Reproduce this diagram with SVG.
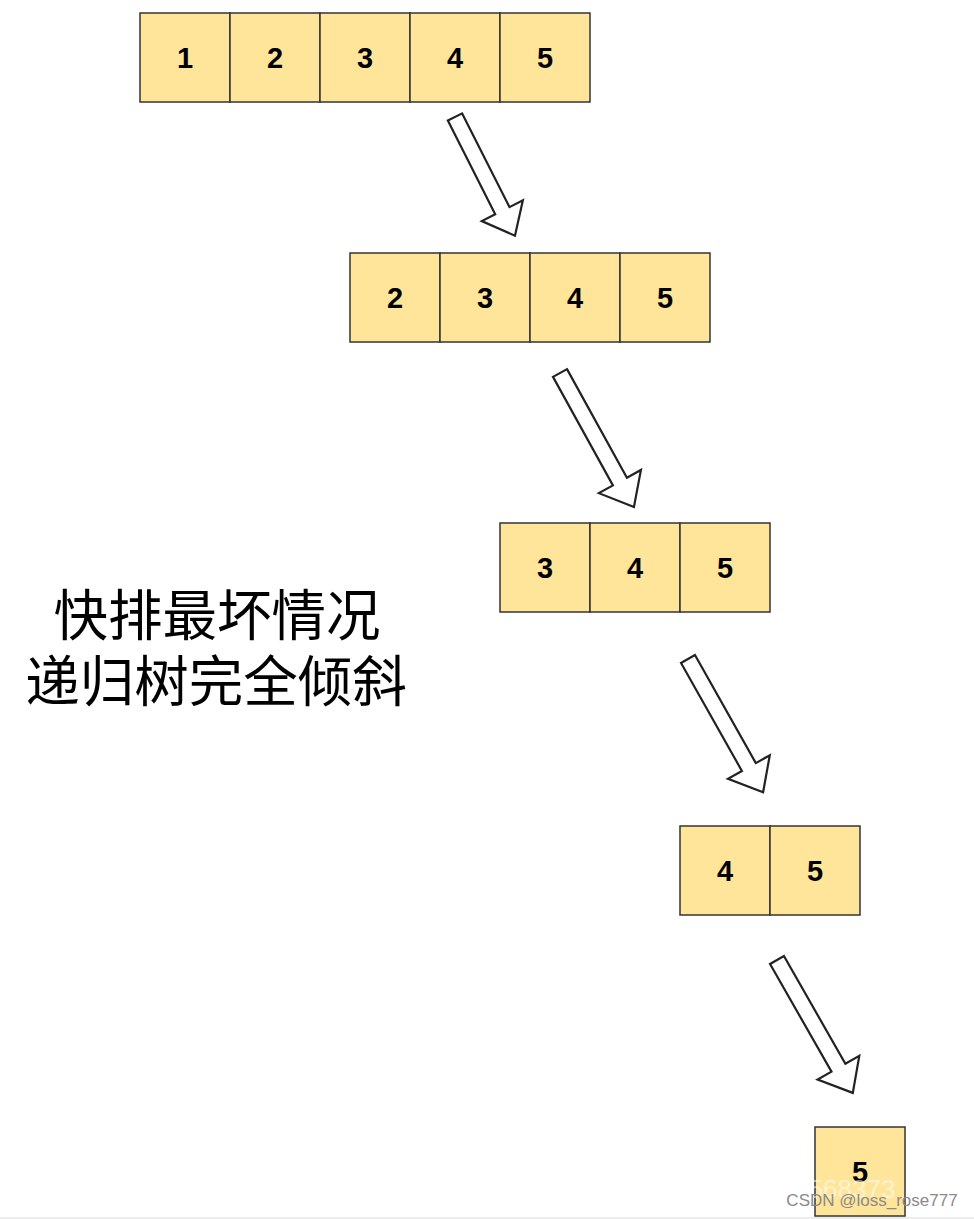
<svg xmlns="http://www.w3.org/2000/svg" width="974" height="1219" viewBox="0 0 974 1219">
<style>
.cell{fill:#FFE599;stroke:#333333;stroke-width:1.5}
.num{font-family:"Liberation Sans",Arial,sans-serif;font-weight:bold;font-size:29px;fill:#000;text-anchor:middle}
.arrow{fill:#ffffff;stroke:#222222;stroke-width:2.2;stroke-linejoin:miter}
.title{font-family:"Noto Sans CJK SC",sans-serif;font-size:54.5px;fill:#000;text-anchor:middle}
</style>
<defs>
<polygon id="arrowL" points="0,-8 124,-8 124,-24 153,0 124,24 124,8 0,8"/>
<polygon id="arrowS" points="0,-8 105,-8 105,-23 133,0 105,23 105,8 0,8"/>
</defs>
<rect width="974" height="1219" fill="#ffffff"/>
<g id="row1">
<rect class="cell" x="140" y="13" width="90" height="89"/>
<rect class="cell" x="230" y="13" width="90" height="89"/>
<rect class="cell" x="320" y="13" width="90" height="89"/>
<rect class="cell" x="410" y="13" width="90" height="89"/>
<rect class="cell" x="500" y="13" width="90" height="89"/>
<text class="num" x="185" y="68">1</text>
<text class="num" x="275" y="68">2</text>
<text class="num" x="365" y="68">3</text>
<text class="num" x="455" y="68">4</text>
<text class="num" x="545" y="68">5</text>
</g>
<g id="row2">
<rect class="cell" x="350" y="253" width="90" height="89"/>
<rect class="cell" x="440" y="253" width="90" height="89"/>
<rect class="cell" x="530" y="253" width="90" height="89"/>
<rect class="cell" x="620" y="253" width="90" height="89"/>
<text class="num" x="395" y="308">2</text>
<text class="num" x="485" y="308">3</text>
<text class="num" x="575" y="308">4</text>
<text class="num" x="665" y="308">5</text>
</g>
<g id="row3">
<rect class="cell" x="500" y="523" width="90" height="89"/>
<rect class="cell" x="590" y="523" width="90" height="89"/>
<rect class="cell" x="680" y="523" width="90" height="89"/>
<text class="num" x="545" y="578">3</text>
<text class="num" x="635" y="578">4</text>
<text class="num" x="725" y="578">5</text>
</g>
<g id="row4">
<rect class="cell" x="680" y="826" width="90" height="89"/>
<rect class="cell" x="770" y="826" width="90" height="89"/>
<text class="num" x="725" y="881">4</text>
<text class="num" x="815" y="881">5</text>
</g>
<g id="row5">
<rect class="cell" x="815" y="1127" width="90" height="89"/>
<text class="num" x="860" y="1182">5</text>
</g>
<g id="connectors">
<use href="#arrowS" class="arrow" transform="translate(455,117) rotate(63.2)"/>
<use href="#arrowL" class="arrow" transform="translate(560,373) rotate(61.1)"/>
<use href="#arrowL" class="arrow" transform="translate(688,659) rotate(60.6)"/>
<use href="#arrowL" class="arrow" transform="translate(777,960) rotate(60.3)"/>
</g>
<g id="caption">
<text class="title" x="217" y="635">快排最坏情况</text>
<text class="title" x="216" y="701">递归树完全倾斜</text>
</g>
<g id="watermark">
<text x="852" y="1198" font-family="Liberation Sans,Arial,sans-serif" font-size="26" fill="#ffffff" fill-opacity="0.55" text-anchor="middle">568373</text>
<text x="872" y="1206" font-family="Liberation Sans,Arial,sans-serif" font-size="17" fill="#8a8a8a" text-anchor="middle">CSDN @loss_rose777</text>
</g>
<line x1="0" y1="1218" x2="974" y2="1218" stroke="#e6e6e6" stroke-width="1.5"/>
</svg>
